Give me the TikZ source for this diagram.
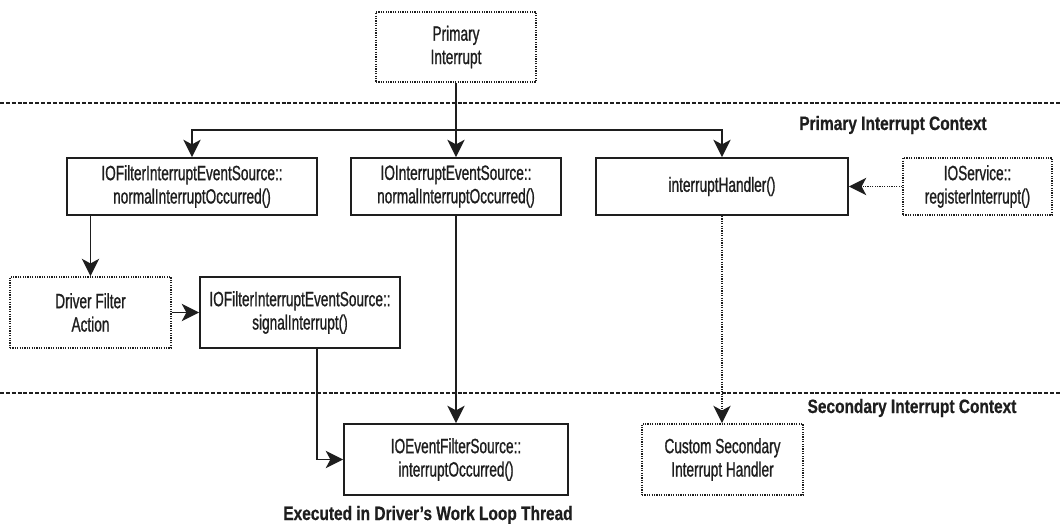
\documentclass[tikz,border=0pt]{standalone}
\usepackage{fontspec}
\setmainfont{Liberation Sans}[FakeStretch=0.66,FakeBold=0.9]
\newfontfamily\lblfont{Liberation Sans}[FakeStretch=0.8,FakeBold=0.6]
\usetikzlibrary{arrows.meta,calc}
\definecolor{ink}{HTML}{1E1E1E}
\tikzset{
  solidbox/.style={draw=ink,line width=1.4pt,fill=white,align=center,inner sep=0pt,text=ink,font=\fontsize{15.5}{17.5}\selectfont},
  dotbox/.style={draw=ink,line width=1.3pt,dash pattern=on 0.9pt off 0.9pt,fill=white,align=center,inner sep=0pt,text=ink,font=\fontsize{15.5}{17.5}\selectfont},
  arr/.style={draw=ink,line width=1.2pt,-{Stealth[length=13pt,width=13pt,inset=3.5pt]}},
  dotarr/.style={arr,dash pattern=on 0.9pt off 0.9pt},
  sep/.style={draw=ink,line width=2pt,dash pattern=on 3pt off 1.4pt},
  ctx/.style={font=\lblfont\bfseries\fontsize{14.5}{16}\selectfont,text=ink,inner sep=0pt}
}
\begin{document}
\begin{tikzpicture}[x=0.75pt,y=-0.75pt]
\useasboundingbox[fill=white] (0,0) rectangle (1061,524);
\draw[sep] (0,103) -- (1061,103);
\draw[sep] (0,393) -- (1061,393);
\node[ctx] (t1) at (893,125) {Primary Interrupt Context};
\node[ctx] (t2) at (912,408) {Secondary Interrupt Context};
\node[ctx] (t3) at (428,515) {Executed in Driver’s Work Loop Thread};

\node[dotbox,minimum width=160*0.75pt,minimum height=70*0.75pt] (prim) at (456,47) {Primary\\Interrupt};
\node[solidbox,minimum width=250*0.75pt,minimum height=57*0.75pt] (A) at (192,186.5) {IOFilterInterruptEventSource::\\normalInterruptOccurred()};
\node[solidbox,minimum width=210*0.75pt,minimum height=57*0.75pt] (B) at (456,186.5) {IOInterruptEventSource::\\normalInterruptOccurred()};
\node[solidbox,minimum width=252*0.75pt,minimum height=57*0.75pt] (C) at (722,186.5) {interruptHandler()};
\node[dotbox,minimum width=149*0.75pt,minimum height=57*0.75pt] (D) at (977.5,186.5) {IOService::\\registerInterrupt()};
\node[dotbox,minimum width=161*0.75pt,minimum height=71*0.75pt] (drv) at (90.5,312.5) {Driver Filter\\Action};
\node[solidbox,minimum width=200*0.75pt,minimum height=71*0.75pt] (E) at (300,312.5) {IOFilterInterruptEventSource::\\signalInterrupt()};
\node[solidbox,minimum width=224*0.75pt,minimum height=71*0.75pt] (F) at (456,459.5) {IOEventFilterSource::\\interruptOccurred()};
\node[dotbox,minimum width=161*0.75pt,minimum height=71*0.75pt] (cust) at (722.5,459.5) {Custom Secondary\\Interrupt Handler};

\coordinate (j) at (456,130);
\draw[arr] (prim) -- (B);
\draw[arr] (j) -| (A.north);
\draw[arr] (j) -| (C.north);
\draw[arr] (A.south -| drv.north) -- (drv.north);
\draw[arr] (drv) -- (E);
\draw[arr] ($(E.south)+(17,0)$) |- (F.west);
\draw[arr] (B) -- (F);
\draw[dotarr] (D) -- (C);
\draw[dotarr] (C.south) -- (C.south |- cust.north);
\end{tikzpicture}
\end{document}
